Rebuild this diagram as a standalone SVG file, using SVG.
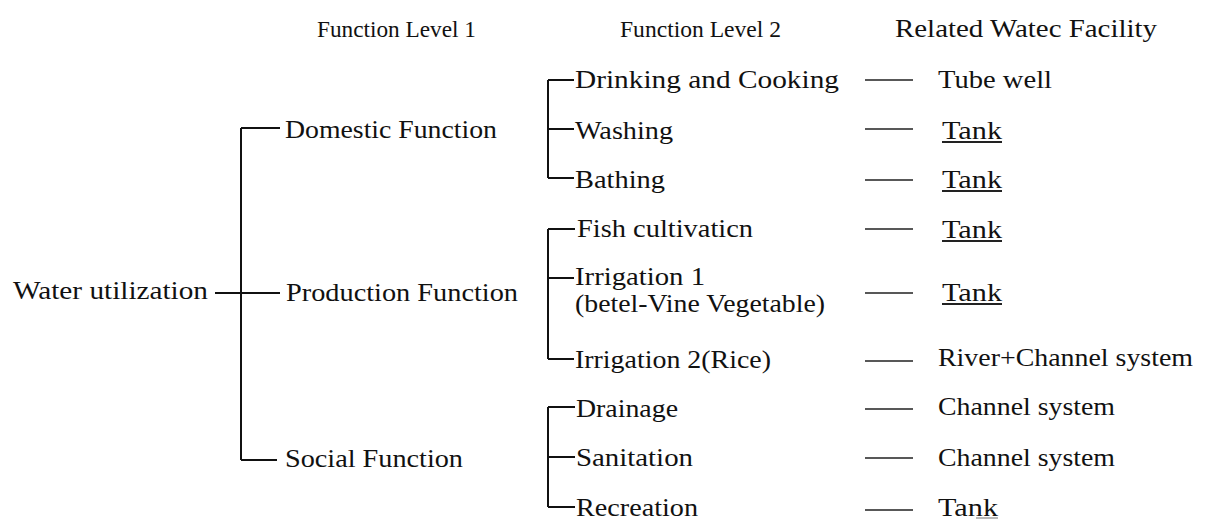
<svg xmlns="http://www.w3.org/2000/svg" width="1205" height="519" viewBox="0 0 1205 519">
<style>
text{font-family:"Liberation Serif","Times New Roman",serif;font-size:25px;fill:#111}
.hd{font-size:23px}
.ln{stroke:#111;stroke-width:2;fill:none}
.ds{stroke:#222;stroke-width:1.6;fill:none}
.ul{stroke:#222;stroke-width:1.8}
</style>
<rect width="1205" height="519" fill="#fff"/>
<g id="headers">
<text class="hd" x="317" y="37" textLength="159" lengthAdjust="spacingAndGlyphs">Function Level 1</text>
<text class="hd" x="620" y="37" textLength="161" lengthAdjust="spacingAndGlyphs">Function Level 2</text>
<text x="895" y="37" textLength="262" lengthAdjust="spacingAndGlyphs">Related Watec Facility</text>
</g>
<g id="connectors">
<path class="ln" d="M215,293 H280 M241,128 V460 M241,128 H280 M241,460 H277"/>
<path class="ln" d="M548,80 V178 M548,80 H574 M548,129 H574 M548,178 H574"/>
<path class="ln" d="M548,229 V359 M548,229 H575 M548,278 H574 M548,359 H574"/>
<path class="ln" d="M548,407 V507 M548,407 H575 M548,457 H575 M548,507 H575"/>
<path class="ds" d="M865,80 H913 M865,129 H913 M865,180 H913 M865,229 H913 M865,293 H913 M865,361 H913 M865,409 H913 M865,458 H913 M865,510 H913"/>
</g>
<g id="root"><text x="13" y="299" textLength="195" lengthAdjust="spacingAndGlyphs">Water utilization</text></g>
<g id="domestic"><text x="285" y="138" textLength="212" lengthAdjust="spacingAndGlyphs">Domestic Function</text></g>
<g id="production"><text x="286" y="301" textLength="232" lengthAdjust="spacingAndGlyphs">Production Function</text></g>
<g id="social"><text x="285" y="467" textLength="178" lengthAdjust="spacingAndGlyphs">Social Function</text></g>
<g id="drinking"><text x="575" y="88" textLength="264" lengthAdjust="spacingAndGlyphs">Drinking and Cooking</text></g>
<g id="washing"><text x="575" y="139" textLength="98" lengthAdjust="spacingAndGlyphs">Washing</text></g>
<g id="bathing"><text x="575" y="188" textLength="90" lengthAdjust="spacingAndGlyphs">Bathing</text></g>
<g id="fish"><text x="577" y="237" textLength="176" lengthAdjust="spacingAndGlyphs">Fish cultivaticn</text></g>
<g id="irrigation1">
<text x="575" y="285" textLength="130" lengthAdjust="spacingAndGlyphs">Irrigation 1</text>
<text x="575" y="312" textLength="250" lengthAdjust="spacingAndGlyphs">(betel-Vine Vegetable)</text>
</g>
<g id="irrigation2"><text x="575" y="368" textLength="196" lengthAdjust="spacingAndGlyphs">Irrigation 2(Rice)</text></g>
<g id="drainage"><text x="576" y="417" textLength="102" lengthAdjust="spacingAndGlyphs">Drainage</text></g>
<g id="sanitation"><text x="576" y="466" textLength="117" lengthAdjust="spacingAndGlyphs">Sanitation</text></g>
<g id="recreation"><text x="576" y="516" textLength="122" lengthAdjust="spacingAndGlyphs">Recreation</text></g>
<g id="f-tubewell"><text x="938" y="88" textLength="114" lengthAdjust="spacingAndGlyphs">Tube well</text></g>
<g id="f-tank1"><text x="942" y="139" textLength="60" lengthAdjust="spacingAndGlyphs">Tank</text><line class="ul" x1="942" y1="142" x2="1002" y2="142"/></g>
<g id="f-tank2"><text x="942" y="188" textLength="60" lengthAdjust="spacingAndGlyphs">Tank</text><line class="ul" x1="942" y1="191" x2="1002" y2="191"/></g>
<g id="f-tank3"><text x="942" y="238" textLength="60" lengthAdjust="spacingAndGlyphs">Tank</text><line class="ul" x1="942" y1="241" x2="1002" y2="241"/></g>
<g id="f-tank4"><text x="942" y="301" textLength="60" lengthAdjust="spacingAndGlyphs">Tank</text><line class="ul" x1="942" y1="304" x2="1002" y2="304"/></g>
<g id="f-river"><text x="938" y="366" textLength="255" lengthAdjust="spacingAndGlyphs">River+Channel system</text></g>
<g id="f-channel1"><text x="938" y="415" textLength="177" lengthAdjust="spacingAndGlyphs">Channel system</text></g>
<g id="f-channel2"><text x="938" y="466" textLength="177" lengthAdjust="spacingAndGlyphs">Channel system</text></g>
<g id="f-tank5"><text x="938" y="516" textLength="60" lengthAdjust="spacingAndGlyphs">Tank</text><line x1="976" y1="518" x2="998" y2="518" stroke="#888" stroke-width="1.2"/></g>
</svg>
